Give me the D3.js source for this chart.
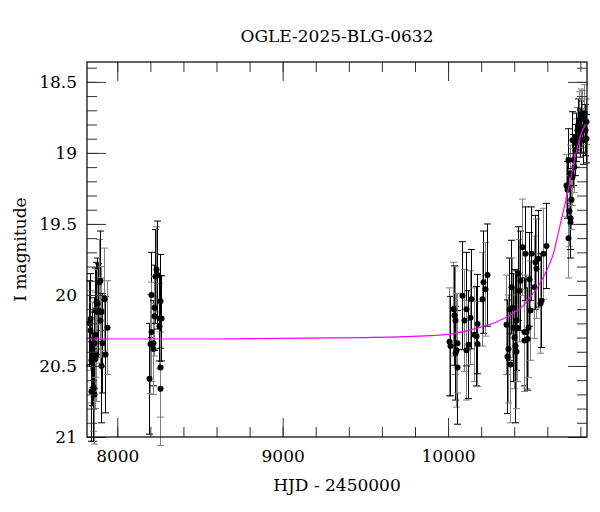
<!DOCTYPE html>
<html>
<head>
<meta charset="utf-8">
<script src="https://cdn.jsdelivr.net/npm/d3@7"></script>
<style>
html,body{margin:0;padding:0;background:#fff;}
svg{display:block;}
text{font-family:"DejaVu Serif",serif;fill:#000;}
</style>
</head>
<body>
<svg id="chart" width="600" height="512"></svg>
<script>
// ---- data ----
const title = "OGLE-2025-BLG-0632";
const xLabel = "HJD - 2450000";
const yLabel = "I magnitude";

const hjd = [
 7831,7835,7837,7839,7843,7845,7849,7852,7855,7859,7861,7863,7865,7867,7871,7873,7876,7880,7883,7887,7893,7895,7899,7903,7909,7920,7926,7936,
 8192,8196,8202,8205,8214,8216,8222,8224,8230,8236,8242,8250,8254,8256,8258,8260,8266,
 10004,10010,10030,10036,10040,10044,10048,10054,10057,10087,10097,10107,10110,10123,10135,10141,10155,10168,10172,10175,10205,10211,10222,10236,
 10349,10356,10362,10368,10377,10383,10389,10393,10397,10403,10409,10413,10417,10423,10429,10437,10449,10457,10460,10463,10474,10477,10483,10489,10498,10504,10518,10526,10534,10544,10554,10564,10574,10590,
 10715,10719,10725,10728,10731,10735,10737,10739,10745,10749,10752,10755,10761,10765,10772,10776,10779,10786,10792,10796,10802,10806,10812,10816,10822,10826,10832,10836
];
const mag = [
 20.20,20.25,20.17,20.46,20.68,20.35,20.45,20.66,20.65,20.70,20.34,20.28,20.11,20.45,20.05,20.42,20.06,20.12,20.11,19.91,19.90,20.18,20.50,20.12,20.34,20.03,20.42,20.23,
 20.59,20.345,20.00,20.26,20.34,20.38,20.09,20.15,19.87,19.82,19.86,20.22,20.165,20.51,20.045,20.66,20.165,
 20.33,20.36,20.10,20.145,20.18,20.41,20.39,20.51,20.34,20.005,20.18,20.10,20.39,20.35,20.16,20.03,20.28,20.29,20.345,20.205,20.03,19.91,19.96,19.86,
 20.21,20.435,20.38,20.10,20.49,19.945,20.09,20.23,20.30,20.36,20.40,20.18,20.23,19.85,19.97,19.90,19.665,20.26,20.32,19.71,20.26,20.31,20.23,19.89,20.11,19.71,19.945,19.77,19.815,19.745,20.06,20.04,19.71,19.655,
 19.23,19.26,19.60,19.05,19.41,19.49,19.145,19.46,19.33,18.91,19.17,19.05,19.10,18.98,18.93,18.89,18.84,18.80,18.77,18.86,18.73,18.815,18.76,18.91,18.72,18.84,18.78,18.90
];
const magErr = [
 0.30,0.28,0.32,0.30,0.35,0.30,0.33,0.30,0.38,0.35,0.32,0.30,0.30,0.35,0.28,0.33,0.32,0.30,0.33,0.30,0.35,0.30,0.40,0.32,0.35,0.36,0.41,0.33,
 0.39,0.35,0.30,0.35,0.30,0.32,0.30,0.28,0.33,0.30,0.38,0.30,0.30,0.35,0.33,0.40,0.30,
 0.38,0.35,0.33,0.35,0.38,0.33,0.40,0.40,0.35,0.38,0.36,0.40,0.35,0.38,0.33,0.35,0.33,0.35,0.30,0.35,0.33,0.36,0.33,0.36,
 0.35,0.40,0.38,0.36,0.41,0.33,0.35,0.38,0.36,0.54,0.40,0.35,0.38,0.33,0.36,0.35,0.34,0.38,0.36,0.33,0.40,0.36,0.35,0.33,0.35,0.33,0.36,0.33,0.35,0.34,0.35,0.33,0.32,0.30,
 0.22,0.20,0.28,0.22,0.25,0.25,0.20,0.22,0.21,0.20,0.20,0.18,0.18,0.18,0.17,0.17,0.16,0.18,0.20,0.17,0.18,0.18,0.20,0.17,0.20,0.18,0.16,0.17
];

// model curve
const modelHjd = [7817,8500,9000,9500,9889,10000,10191,10292,10391,10450,10494,10550,10595,10634,10675,10715,10745,10776,10806,10840];
const modelMag = [20.31,20.31,20.305,20.30,20.287,20.278,20.228,20.19,20.13,20.08,20.02,19.93,19.83,19.72,19.52,19.32,19.16,18.99,18.86,18.79];

const xMajorTicks = [8000, 9000, 10000];
const yMajorTicks = [18.5, 19, 19.5, 20, 20.5, 21];

// ---- layout ----
const svg = d3.select("#chart");
const L = 87, R = 587, T = 62, B = 437;

const x = d3.scaleLinear().domain([7817, 10840]).range([L, R]);
const y = d3.scaleLinear().domain([21.0, 18.36]).range([B, T]);

const points = hjd.map((t, i) => ({t, m: mag[i], e: magErr[i], i}));

// error bars
const eb = svg.append("g");
points.forEach(p => {
  const col = p.i % 2 ? "#808080" : "#000";
  const g = eb.append("g").attr("stroke", col).attr("stroke-width", 1);
  const xx = Math.round(x(p.t)) + 0.5;
  const y1 = y(p.m - p.e), y2 = y(p.m + p.e);
  g.append("line").attr("x1", xx).attr("x2", xx).attr("y1", y1).attr("y2", y2);
  g.append("line").attr("x1", xx - 3.5).attr("x2", xx + 3.5).attr("y1", y1).attr("y2", y1);
  g.append("line").attr("x1", xx - 3.5).attr("x2", xx + 3.5).attr("y1", y2).attr("y2", y2);
});

// dots
svg.append("g").selectAll("circle").data(points).join("circle")
  .attr("cx", d => Math.round(x(d.t)) + 0.5)
  .attr("cy", d => y(d.m))
  .attr("r", 3)
  .attr("fill", "#000");

// model curve
const line = d3.line().x(d => x(d[0])).y(d => y(d[1])).curve(d3.curveMonotoneX);
svg.append("path")
  .datum(modelHjd.map((t, i) => [t, modelMag[i]]))
  .attr("d", line)
  .attr("fill", "none")
  .attr("stroke", "#ff00ff")
  .attr("stroke-width", 1.2);

// axes (ticks inward on all four sides)
const tickCol = "#333";
const xMinor = d3.range(7800, 10900, 200).filter(v => v >= 7817 && v <= 10840);
const yMinor = d3.range(184, 211, 1).map(v => v / 10).filter(v => v >= 18.36 && v <= 21.0);

function addAxis(axisGen, tx, ty) {
  const g = svg.append("g").attr("transform", `translate(${tx},${ty})`).call(axisGen);
  g.select(".domain").remove();
  g.selectAll("line").attr("stroke", tickCol);
  return g;
}
// bottom
addAxis(d3.axisBottom(x).tickValues(xMinor).tickSize(-10).tickFormat(""), 0, B);
const xb = addAxis(d3.axisBottom(x).tickValues(xMajorTicks).tickSize(-19).tickPadding(13).tickFormat(d3.format("d")), 0, B);
xb.selectAll("text").attr("font-size", 17).attr("font-family", "DejaVu Serif").attr("fill", "#000");
// top
addAxis(d3.axisTop(x).tickValues(xMinor).tickSize(-10).tickFormat(""), 0, T);
addAxis(d3.axisTop(x).tickValues(xMajorTicks).tickSize(-19).tickFormat(""), 0, T);
// left
addAxis(d3.axisLeft(y).tickValues(yMinor).tickSize(-10).tickFormat(""), L, 0);
const yl = addAxis(d3.axisLeft(y).tickValues(yMajorTicks).tickSize(-19).tickPadding(10).tickFormat(d => d), L, 0);
yl.selectAll("text").attr("font-size", 17).attr("font-family", "DejaVu Serif").attr("fill", "#000");
// right
addAxis(d3.axisRight(y).tickValues(yMinor).tickSize(-10).tickFormat(""), R, 0);
addAxis(d3.axisRight(y).tickValues(yMajorTicks).tickSize(-19).tickFormat(""), R, 0);

// frame
svg.append("rect").attr("x", L).attr("y", T).attr("width", R - L).attr("height", B - T)
  .attr("fill", "none").attr("stroke", "#111").attr("stroke-width", 1.3);

// labels
svg.append("text").attr("x", (L + R) / 2).attr("y", 42).attr("text-anchor", "middle")
  .attr("font-size", 17).text(title);
svg.append("text").attr("x", (L + R) / 2).attr("y", 491).attr("text-anchor", "middle")
  .attr("font-size", 17).text(xLabel);
svg.append("text").attr("transform", `translate(26,${(T + B) / 2}) rotate(-90)`)
  .attr("text-anchor", "middle").attr("font-size", 17).text(yLabel);
</script>
</body>
</html>
